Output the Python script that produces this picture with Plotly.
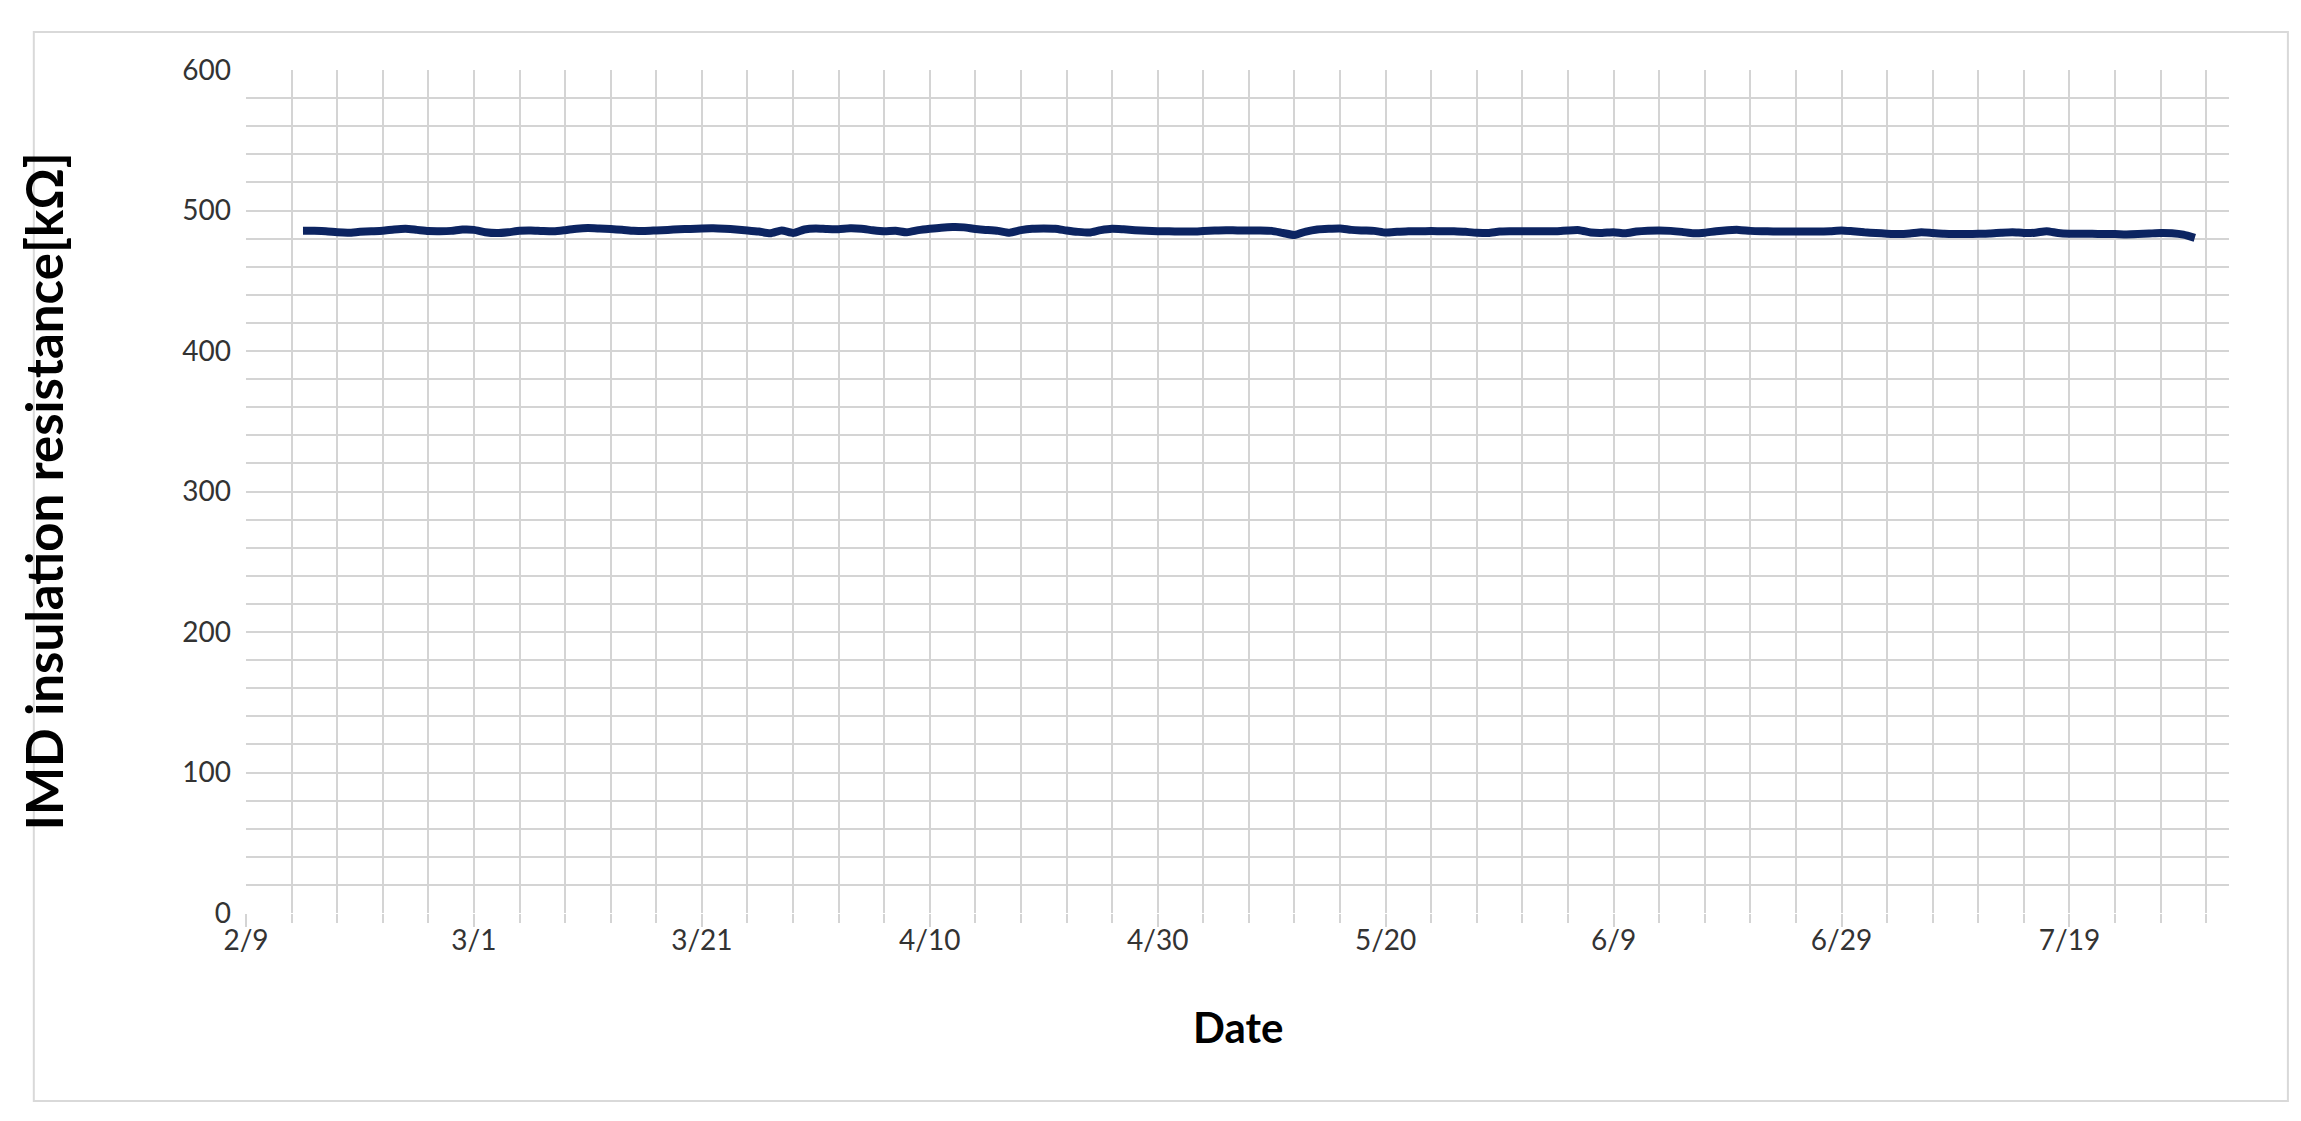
import plotly.graph_objects as go
import pandas as pd

# daily readings, 2/14 .. 7/30
start_date = "2021-02-14"
resistance_kohm = [
    485.5, 485.5, 485.3, 484.5, 484.2, 484.8, 485.2, 485.6, 486.5, 487.0,
    486.2, 485.4, 485.3, 485.5, 486.4, 486.2, 484.5, 483.9, 484.5, 485.6,
    485.8, 485.4, 485.2, 486.0, 487.0, 487.5, 487.2,
    486.8, 486.3, 485.6, 485.4, 485.8, 486.2, 486.6, 486.9, 487.2, 487.3,
    487.0, 486.5, 485.8, 485.0, 483.8, 485.8, 484.0, 486.5, 487.2, 486.8,
    486.7, 487.3, 487.0, 486.0, 485.3, 485.6, 484.5, 486.0,
    487.0, 487.8, 488.2, 488.0, 486.8, 486.2, 485.5, 484.2, 486.0, 487.0,
    487.2, 487.0, 485.8, 484.8, 484.3, 486.0, 487.0, 486.6, 486.0, 485.6,
    485.3, 485.2, 485.0, 485.0, 485.4, 485.8, 486.0, 485.8, 485.8,
    485.8, 485.5, 484.0, 482.6, 485.0, 486.5, 487.0, 487.2, 486.2, 485.8,
    485.5, 484.3, 484.8, 485.3, 485.2, 485.4, 485.2, 485.3, 484.8, 484.2,
    484.0, 485.0, 485.2, 485.3, 485.2, 485.3, 485.2, 485.8,
    486.0, 484.3, 484.0, 484.6, 483.8, 485.0, 485.6, 485.8, 485.5, 484.8,
    483.8, 484.2, 485.3, 486.0, 486.2, 485.5, 485.2, 485.1, 485.0, 485.0,
    485.0, 485.0, 485.3, 485.8, 485.2, 484.5, 484.0, 483.5,
    483.2, 483.6, 484.5, 484.0, 483.5, 483.3, 483.3, 483.4, 483.6, 484.2,
    484.6, 484.0, 484.2, 485.3, 484.0, 483.5, 483.4, 483.4, 483.3, 483.2,
    483.0, 483.2, 483.6, 484.0, 483.8, 482.8, 480.5,
]
dates = pd.date_range(start_date, periods=len(resistance_kohm), freq="D")

DAY_MS = 86400000
FONT = "Lato, 'Open Sans', sans-serif"
GRID = "#d4d4d4"

fig = go.Figure(
    go.Scatter(
        x=dates,
        y=resistance_kohm,
        mode="lines",
        line=dict(color="#0c2461", width=8, shape="spline", smoothing=0.6),
        showlegend=False,
    )
)

fig.update_xaxes(
    type="date",
    range=["2021-02-09", "2021-08-02"],
    tick0="2021-02-09",
    dtick=20 * DAY_MS,
    tickformat="%-m/%-d",
    ticks="outside",
    ticklen=13,
    tickwidth=2,
    tickcolor=GRID,
    ticklabelstandoff=-11,
    showgrid=True,
    gridcolor=GRID,
    gridwidth=2,
    zeroline=False,
    showline=False,
    tickfont=dict(family=FONT, size=28, color="#333333"),
    minor=dict(
        tick0="2021-02-09",
        dtick=4 * DAY_MS,
        showgrid=True,
        gridcolor=GRID,
        gridwidth=2,
        ticks="outside",
        ticklen=9,
        tickwidth=2,
        tickcolor=GRID,
    ),
)

fig.update_yaxes(
    range=[0, 600],
    dtick=100,
    showgrid=True,
    gridcolor=GRID,
    gridwidth=2,
    zeroline=False,
    showline=False,
    ticks="",
    ticklabelstandoff=14,
    tickfont=dict(family=FONT, size=28, color="#333333"),
    minor=dict(dtick=20, showgrid=True, gridcolor=GRID, gridwidth=2),
)

# axis titles
fig.add_annotation(
    text="<b>IMD insulation resistance[kΩ]</b>", xref="paper", yref="paper",
    x=-0.102, y=0.5, xanchor="center", yanchor="middle", textangle=-90,
    showarrow=False, font=dict(family=FONT, size=51, color="#000000"),
)
fig.add_annotation(
    text="<b>Date</b>", xref="paper", yref="paper",
    x=0.5, y=-0.135, xanchor="center", yanchor="middle",
    showarrow=False, font=dict(family=FONT, size=42, color="#000000"),
)

# outer chart frame
fig.add_shape(
    type="rect", xref="paper", yref="paper",
    x0=-0.107, x1=1.0297, y0=-0.223, y1=1.045,
    line=dict(color="#d9d9d9", width=2), layer="below",
)

fig.update_layout(
    width=2301,
    height=1121,
    margin=dict(l=238, r=80, t=62, b=216),
    plot_bgcolor="white",
    paper_bgcolor="white",
)

fig.write_html("out.html")
